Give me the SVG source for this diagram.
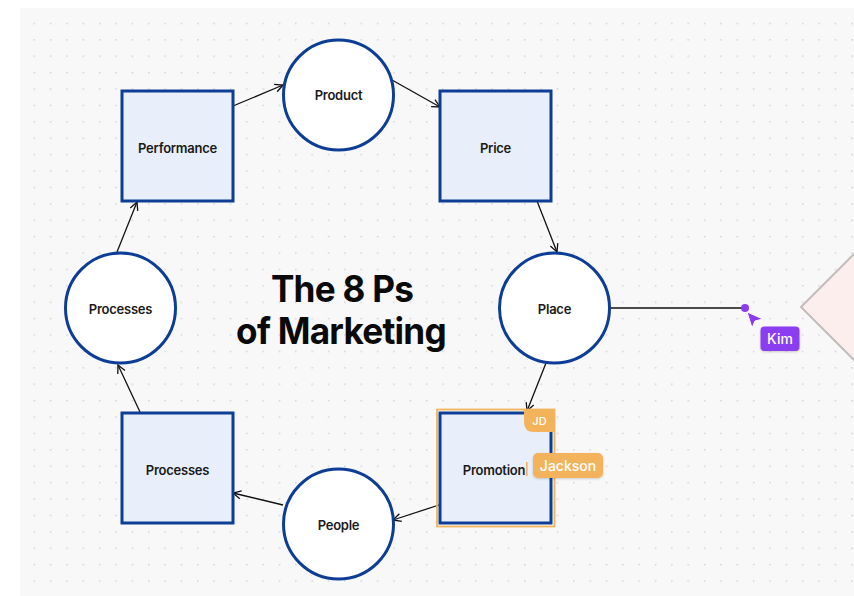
<svg xmlns="http://www.w3.org/2000/svg" width="854" height="596" viewBox="0 0 854 596">
<defs>
<pattern id="dots" x="33.5" y="22.7" width="16.35" height="16.4" patternUnits="userSpaceOnUse">
<circle cx="0.8" cy="0.8" r="0.8" fill="#c9c9cc"/>
</pattern>
<marker id="arr" viewBox="0 0 10 10" refX="9" refY="5" markerWidth="10" markerHeight="10" markerUnits="userSpaceOnUse" orient="auto">
<path d="M1,1 L9,5 L1,9" fill="none" stroke="#111" stroke-width="1.3"/>
</marker>
<filter id="sh" x="-20%" y="-30%" width="140%" height="160%">
<feDropShadow dx="0" dy="1" stdDeviation="1.2" flood-color="#000" flood-opacity="0.18"/>
</filter>
<style>
.box{fill:#e8effb;stroke:#0d3d94;stroke-width:3}
.circ{fill:#ffffff;stroke:#0d3d94;stroke-width:3}
.lbl{font-family:Inter,"Liberation Sans",sans-serif;font-weight:600;font-size:13px;fill:#1a1a1a;text-anchor:middle;letter-spacing:-0.25px}
.con{fill:none;stroke:#111;stroke-width:1.3}
.title{font-family:Inter,"Liberation Sans",sans-serif;font-weight:700;font-size:37px;fill:#0a0a0a;text-anchor:middle;letter-spacing:-0.8px}
.tag{font-family:Inter,"Liberation Sans",sans-serif;font-weight:500;font-size:14px;fill:#ffffff;text-anchor:middle}
</style>
</defs>
<rect x="0" y="0" width="854" height="596" fill="#ffffff"/>
<rect x="20" y="8" width="834" height="588" fill="#f8f8f9"/>
<rect x="20" y="8" width="834" height="588" fill="url(#dots)"/>

<g id="diamond">
<path d="M801,307 L860,248 L860,366 Z" fill="#fdeeee" stroke="#c3bcbc" stroke-width="2"/>
</g>

<g id="connectors">
<line class="con" x1="233" y1="106" x2="283" y2="85" marker-end="url(#arr)"/>
<line class="con" x1="392" y1="80" x2="440" y2="107" marker-end="url(#arr)"/>
<line class="con" x1="537" y1="201" x2="557" y2="252" marker-end="url(#arr)"/>
<line class="con" x1="546" y1="363" x2="527" y2="411" marker-end="url(#arr)"/>
<line class="con" x1="439" y1="505" x2="393" y2="520" marker-end="url(#arr)"/>
<line class="con" x1="283" y1="505" x2="233" y2="493" marker-end="url(#arr)"/>
<line class="con" x1="140" y1="412" x2="118" y2="365" marker-end="url(#arr)"/>
<line class="con" x1="117" y1="252" x2="137" y2="202" marker-end="url(#arr)"/>
<line x1="610" y1="308" x2="745" y2="308" stroke="#111" stroke-width="1.5"/>
</g>

<g id="performance">
<rect class="box" x="122" y="91" width="111" height="110"/>
<text class="lbl" x="177.5" y="152.5">Performance</text>
</g>
<g id="product">
<circle class="circ" cx="338.5" cy="95" r="55"/>
<text class="lbl" x="338.5" y="100">Product</text>
</g>
<g id="price">
<rect class="box" x="440" y="91" width="111" height="110"/>
<text class="lbl" x="495.5" y="152.5">Price</text>
</g>
<g id="place">
<circle class="circ" cx="554.5" cy="308" r="55"/>
<text class="lbl" x="554.5" y="313.5">Place</text>
</g>
<g id="promotion">
<rect x="437" y="409.5" width="117.5" height="117" fill="none" stroke="#f3b35b" stroke-width="1.8"/>
<rect class="box" x="440" y="413" width="111" height="110"/>
<text class="lbl" x="494" y="474.5">Promotion</text>
<rect x="526" y="462" width="1.6" height="14" fill="#f3b35b"/>
</g>
<g id="people">
<circle class="circ" cx="338.5" cy="524" r="55"/>
<text class="lbl" x="338.5" y="529.5">People</text>
</g>
<g id="processes-box">
<rect class="box" x="122" y="413" width="111" height="110"/>
<text class="lbl" x="177.5" y="474.5">Processes</text>
</g>
<g id="processes-circle">
<circle class="circ" cx="120.5" cy="308" r="55"/>
<text class="lbl" x="120.5" y="313.5">Processes</text>
</g>

<g id="title">
<text class="title" transform="translate(342,302) scale(0.95,1)" x="0" y="0">The 8 Ps</text>
<text class="title" transform="translate(341,343.5) scale(0.95,1)" x="0" y="0">of Marketing</text>
</g>

<g id="jd-badge">
<path d="M524,409 L555,409 L555,432 L534,432 Q524,432 524,422 Z" fill="#f3b35b"/>
<text x="539.5" y="425" font-family="Inter,'Liberation Sans',sans-serif" font-size="11" font-weight="500" fill="#ffffff" text-anchor="middle">JD</text>
</g>
<g id="jackson">
<rect x="533" y="453" width="70" height="25" rx="5" fill="#f3b35b" filter="url(#sh)"/>
<text class="tag" x="568" y="470.5">Jackson</text>
</g>
<g id="kim">
<circle cx="745" cy="308" r="4" fill="#8b3cf0"/>
<path d="M747,312 L763,319 L755,321 L752,328 Z" fill="#8b3cf0" stroke="#ffffff" stroke-width="1"/>
<rect x="760.5" y="326.5" width="39" height="24.5" rx="4" fill="#8b3cf0" filter="url(#sh)"/>
<text class="tag" x="780" y="343.5" font-size="15">Kim</text>
</g>
</svg>
